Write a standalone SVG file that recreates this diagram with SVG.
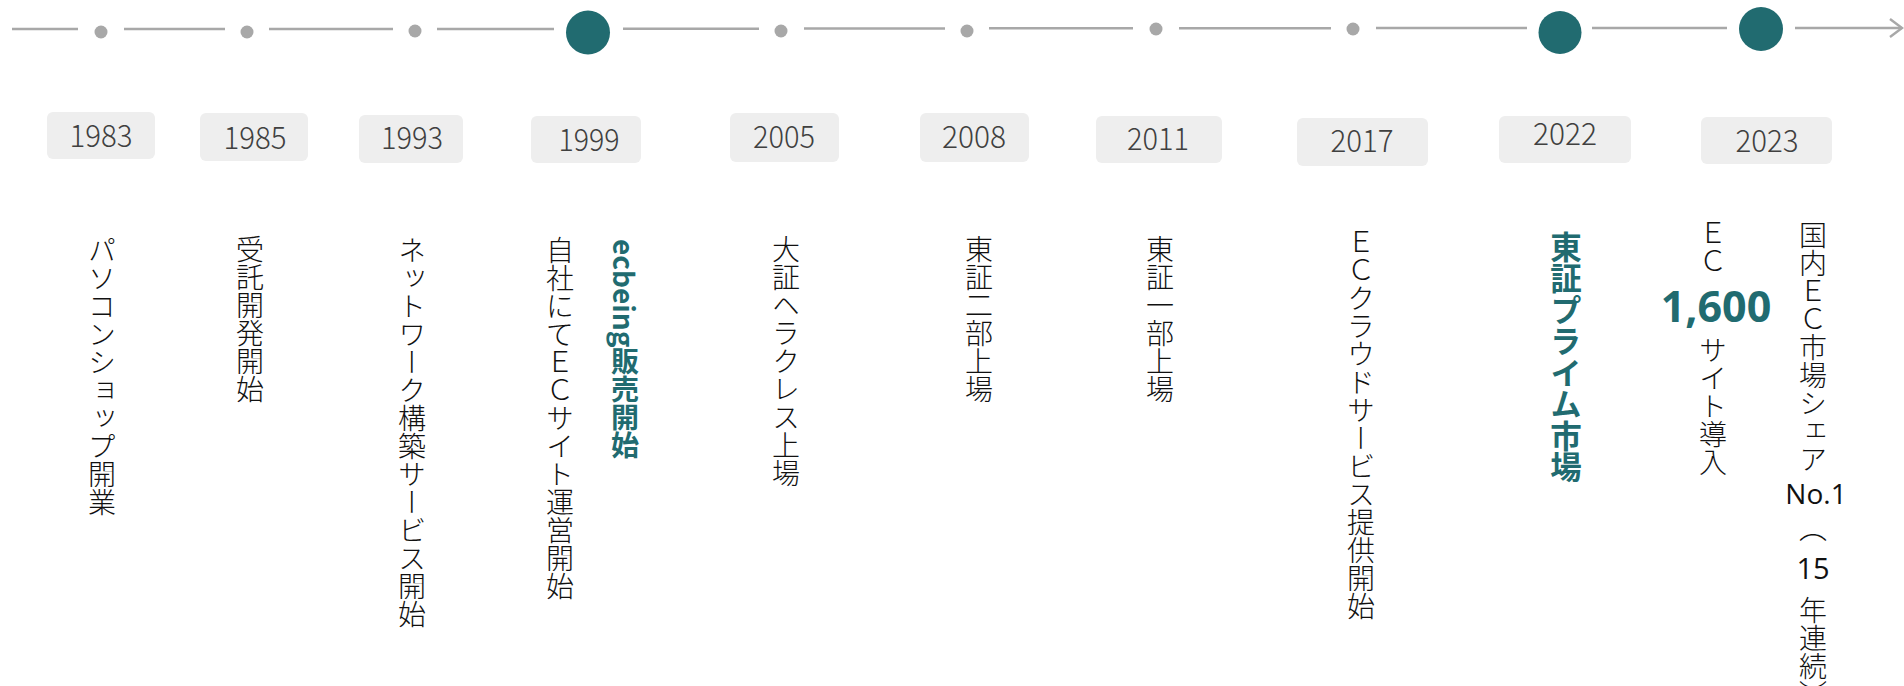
<svg xmlns="http://www.w3.org/2000/svg" width="1904" height="686" viewBox="0 0 1904 686">
<style>
.seg{stroke:#a8a8a8;stroke-width:2.6;fill:none}
.dot{fill:#a8a8a8}
.big{fill:#216b70}
.box{fill:#eeeeee}
.yr{font-family:"Noto Sans CJK JP","Noto Sans",sans-serif;font-weight:300;font-size:31px;fill:#404040;text-anchor:middle}
.vt{font-family:"Noto Sans CJK JP",sans-serif;font-weight:300;font-size:28px;fill:#111;writing-mode:vertical-rl}
.vb{font-family:"Noto Sans CJK JP",sans-serif;font-weight:700;fill:#216b70;writing-mode:vertical-rl}
.num{font-family:"Open Sans","Noto Sans",sans-serif;fill:#111;text-anchor:middle}
</style>
<defs>
<marker id="arr" markerWidth="16" markerHeight="22" refX="14" refY="11" orient="auto" markerUnits="userSpaceOnUse">
<path d="M2,2 L14,11 L2,20" fill="none" stroke="#a8a8a8" stroke-width="2.4"/>
</marker>
</defs>
<g id="connectors">
<line class="seg" x1="12" y1="29" x2="78" y2="29"/>
<line class="seg" x1="124" y1="29" x2="225" y2="29"/>
<line class="seg" x1="269" y1="29" x2="393" y2="29"/>
<line class="seg" x1="437" y1="29" x2="554" y2="29"/>
<line class="seg" x1="623" y1="28.7" x2="759" y2="28.7"/>
<line class="seg" x1="804" y1="28.5" x2="945" y2="28.5"/>
<line class="seg" x1="989" y1="28.3" x2="1133" y2="28.3"/>
<line class="seg" x1="1179" y1="28.2" x2="1331" y2="28.2"/>
<line class="seg" x1="1376" y1="28" x2="1527" y2="28"/>
<line class="seg" x1="1592" y1="28" x2="1727" y2="28"/>
<line class="seg" x1="1795" y1="28" x2="1902" y2="28" marker-end="url(#arr)"/>
</g>
<g id="n1983">
<circle class="dot" cx="101" cy="32" r="6.5"/>
<rect class="box" x="47" y="112" width="108" height="47" rx="6"/>
<text class="yr" x="101" y="147" textLength="63" lengthAdjust="spacingAndGlyphs">1983</text>
<text class="vt" x="102" y="236">パソコンショップ開業</text>
</g>
<g id="n1985">
<circle class="dot" cx="247" cy="32" r="6.5"/>
<rect class="box" x="200" y="113" width="108" height="48" rx="6"/>
<text class="yr" x="255" y="149" textLength="63" lengthAdjust="spacingAndGlyphs">1985</text>
<text class="vt" x="250" y="235">受託開発開始</text>
</g>
<g id="n1993">
<circle class="dot" cx="415" cy="31" r="6.5"/>
<rect class="box" x="359" y="115" width="104" height="48" rx="6"/>
<text class="yr" x="412" y="149" textLength="62" lengthAdjust="spacingAndGlyphs">1993</text>
<text class="vt" x="412" y="236">ネットワーク構築サービス開始</text>
</g>
<g id="n1999">
<circle class="big" cx="588" cy="32.5" r="22"/>
<rect class="box" x="531" y="116" width="110" height="47" rx="6"/>
<text class="yr" x="589" y="151" textLength="61" lengthAdjust="spacingAndGlyphs">1999</text>
<text class="vt" x="560" y="236">自社にてＥＣサイト運営開始</text>
<text class="vb" x="625" y="239" font-size="28">ecbeing販売開始</text>
</g>
<g id="n2005">
<circle class="dot" cx="781" cy="31" r="6.5"/>
<rect class="box" x="730" y="113" width="109" height="49" rx="6"/>
<text class="yr" x="784" y="148" textLength="62" lengthAdjust="spacingAndGlyphs">2005</text>
<text class="vt" x="786" y="235">大証ヘラクレス上場</text>
</g>
<g id="n2008">
<circle class="dot" cx="967" cy="31" r="6.5"/>
<rect class="box" x="920" y="113" width="109" height="49" rx="6"/>
<text class="yr" x="974" y="148" textLength="64" lengthAdjust="spacingAndGlyphs">2008</text>
<text class="vt" x="979" y="235">東証二部上場</text>
</g>
<g id="n2011">
<circle class="dot" cx="1156" cy="29" r="6.5"/>
<rect class="box" x="1096" y="116" width="126" height="47" rx="6"/>
<text class="yr" x="1158" y="150" textLength="62" lengthAdjust="spacingAndGlyphs">2011</text>
<text class="vt" x="1160" y="235">東証一部上場</text>
</g>
<g id="n2017">
<circle class="dot" cx="1353" cy="29" r="6.5"/>
<rect class="box" x="1297" y="118" width="131" height="48" rx="6"/>
<text class="yr" x="1362" y="152" textLength="63" lengthAdjust="spacingAndGlyphs">2017</text>
<text class="vt" x="1361" y="228">ＥＣクラウドサービス提供開始</text>
</g>
<g id="n2022">
<circle class="big" cx="1560" cy="32.5" r="21.5"/>
<rect class="box" x="1499" y="116" width="132" height="47" rx="6"/>
<text class="yr" x="1565" y="145" textLength="64" lengthAdjust="spacingAndGlyphs">2022</text>
<text class="vb" x="1566" y="231" font-size="31.5">東証プライム市場</text>
</g>
<g id="n2023">
<circle class="big" cx="1761" cy="29" r="22"/>
<rect class="box" x="1701" y="117" width="131" height="47" rx="6"/>
<text class="yr" x="1767" y="152" textLength="63" lengthAdjust="spacingAndGlyphs">2023</text>
<text class="vt" x="1713" y="219">ＥＣ</text>
<text class="num" x="1716" y="322" font-size="43" font-weight="700" style="fill:#216b70">1,600</text>
<text class="vt" x="1713" y="336">サイト導入</text>
<text class="vt" x="1813" y="221">国内ＥＣ市場シェア</text>
<text class="num" x="1816" y="504" font-size="28">No.1</text>
<text class="vt" x="1813" y="514">（</text>
<text class="num" x="1813" y="579" font-size="29">15</text>
<text class="vt" x="1813" y="596">年連続）</text>
</g>
</svg>
